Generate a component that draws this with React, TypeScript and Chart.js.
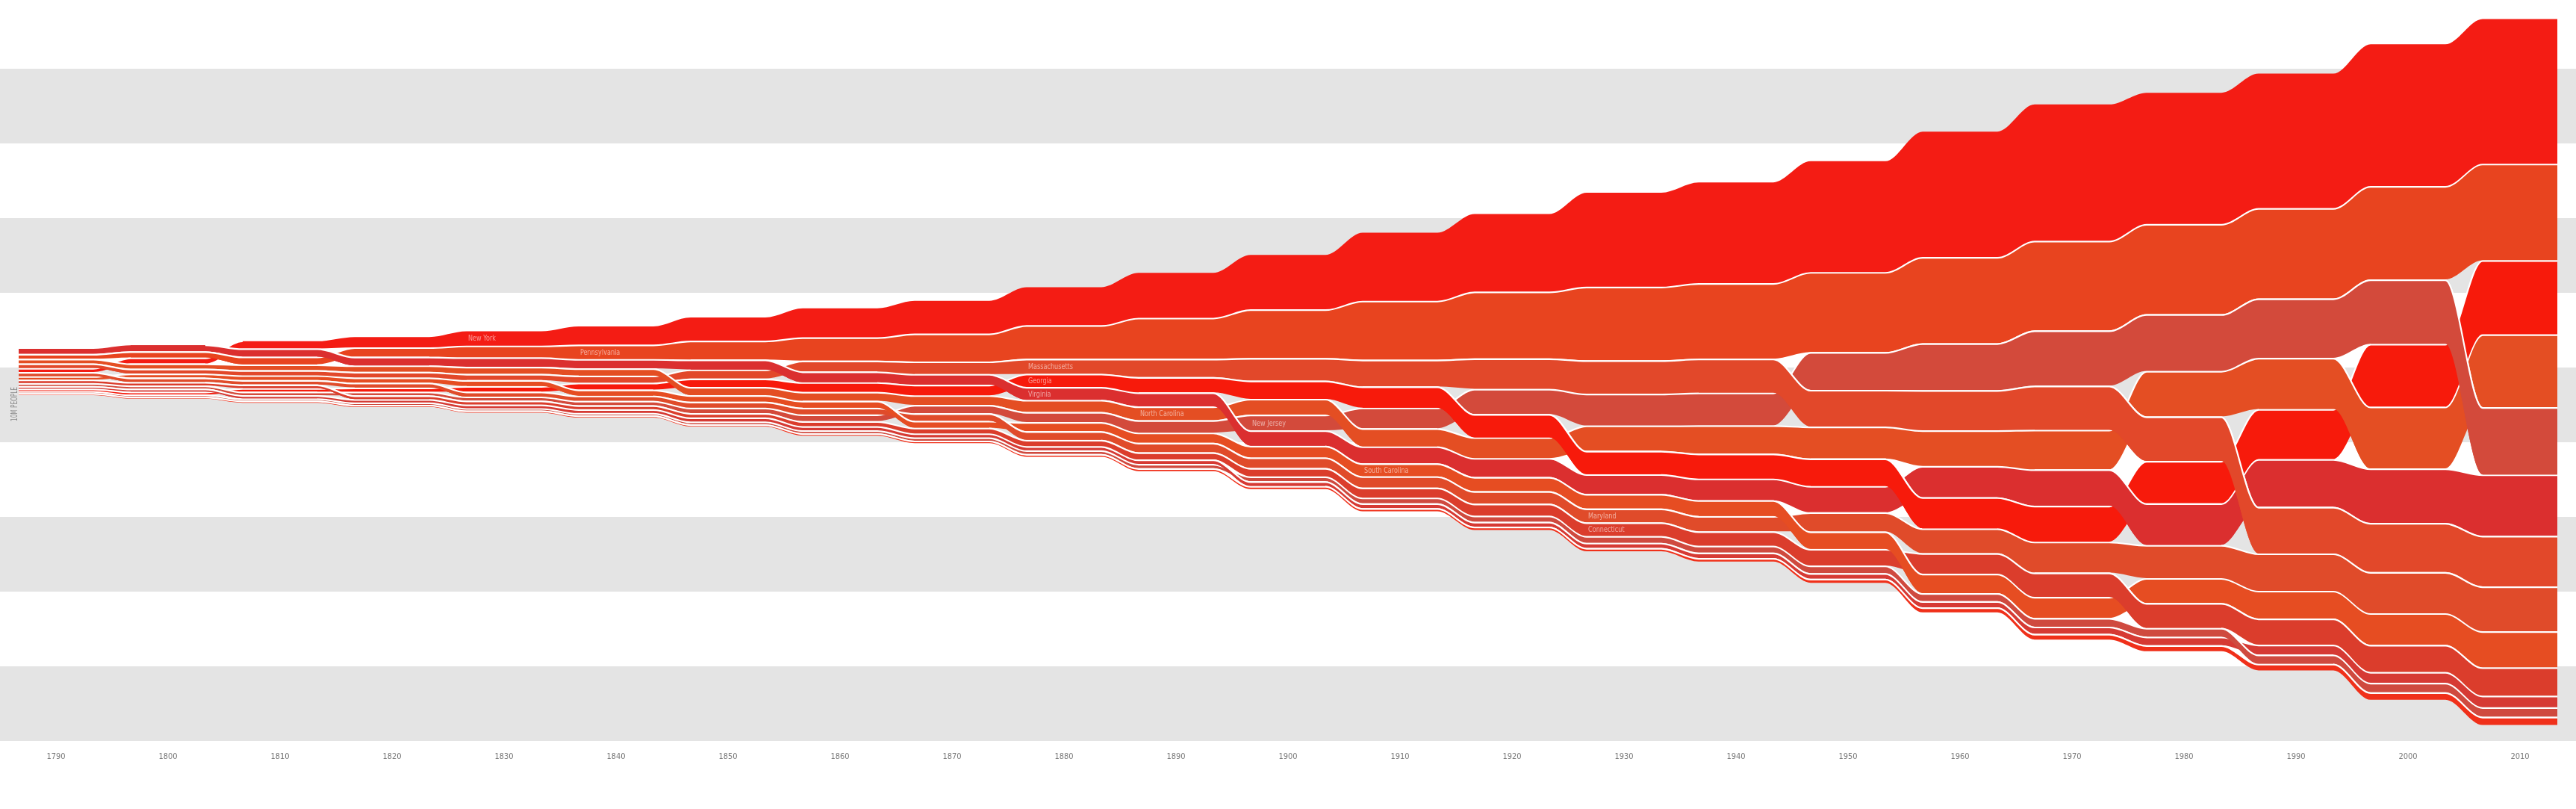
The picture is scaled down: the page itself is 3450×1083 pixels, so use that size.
import React, { useEffect, useRef } from 'react';
import { Chart, registerables } from 'chart.js';

Chart.register(...registerables);

// ---- data (census populations, thousands) ----
const years = [1790, 1800, 1810, 1820, 1830, 1840, 1850, 1860, 1870, 1880, 1890, 1900, 1910, 1920, 1930, 1940, 1950, 1960, 1970, 1980, 1990, 2000, 2010];
const yearLabels = ['1790', '1800', '1810', '1820', '1830', '1840', '1850', '1860', '1870', '1880', '1890', '1900', '1910', '1920', '1930', '1940', '1950', '1960', '1970', '1980', '1990', '2000', '2010'];

const states = ['Connecticut', 'Delaware', 'Georgia', 'Maryland', 'Massachusetts', 'New Hampshire', 'New Jersey', 'New York', 'North Carolina', 'Pennsylvania', 'Rhode Island', 'South Carolina', 'Virginia'];
const stateColors = ['#db3d2c', '#f0301a', '#f71a0b', '#e04b2a', '#e2482a', '#d63a34', '#d34a3b', '#f41c14', '#e44e23', '#e8441f', '#cf4a3f', '#e64d22', '#db2f2f'];

const connecticut = [238, 251, 262, 275, 298, 310, 371, 460, 537, 623, 746, 908, 1115, 1381, 1607, 1709, 2007, 2535, 3032, 3108, 3287, 3406, 3574];
const delaware = [59, 64, 73, 73, 77, 78, 92, 112, 125, 147, 168, 185, 202, 223, 238, 267, 318, 446, 548, 594, 666, 784, 898];
const georgia = [83, 163, 252, 341, 517, 691, 906, 1057, 1184, 1542, 1837, 2216, 2609, 2896, 2909, 3124, 3445, 3943, 4590, 5463, 6478, 8186, 9688];
const maryland = [320, 342, 381, 407, 447, 470, 583, 687, 781, 935, 1042, 1188, 1295, 1450, 1632, 1821, 2343, 3101, 3922, 4217, 4781, 5296, 5774];
const massachusetts = [379, 423, 472, 523, 610, 738, 995, 1231, 1457, 1783, 2239, 2805, 3366, 3852, 4250, 4317, 4691, 5149, 5689, 5737, 6016, 6349, 6548];
const newHampshire = [142, 184, 214, 244, 269, 285, 318, 326, 318, 347, 377, 412, 431, 443, 465, 492, 533, 607, 738, 921, 1109, 1236, 1316];
const newJersey = [184, 211, 246, 278, 321, 373, 490, 672, 906, 1131, 1445, 1884, 2537, 3156, 4041, 4160, 4835, 6067, 7168, 7365, 7730, 8414, 8792];
const newYork = [340, 589, 959, 1373, 1919, 2429, 3097, 3881, 4383, 5083, 6003, 7269, 9114, 10385, 12588, 13479, 14830, 16782, 18237, 17558, 17990, 18976, 19378];
const northCarolina = [394, 478, 556, 639, 738, 753, 869, 993, 1071, 1400, 1618, 1894, 2206, 2559, 3170, 3572, 4062, 4556, 5082, 5882, 6629, 8049, 9535];
const pennsylvania = [434, 602, 810, 1049, 1348, 1724, 2312, 2906, 3522, 4283, 5258, 6302, 7665, 8720, 9631, 9900, 10498, 11319, 11794, 11864, 11882, 12281, 12702];
const rhodeIsland = [69, 69, 77, 83, 97, 109, 148, 175, 217, 277, 346, 429, 543, 604, 687, 713, 792, 859, 950, 947, 1003, 1048, 1053];
const southCarolina = [249, 346, 415, 503, 581, 594, 669, 704, 706, 996, 1151, 1340, 1515, 1684, 1739, 1900, 2117, 2383, 2591, 3122, 3487, 4012, 4625];
const virginia = [692, 808, 878, 938, 1044, 1025, 1119, 1220, 1225, 1513, 1656, 1854, 2062, 2309, 2422, 2678, 3319, 3967, 4648, 5347, 6187, 7079, 8001];

const populations = [connecticut, delaware, georgia, maryland, massachusetts, newHampshire, newJersey, newYork, northCarolina, pennsylvania, rhodeIsland, southCarolina, virginia];

const axisTitle = '10M PEOPLE';
const grayBandTops = [40.6, 20.6, 0.6, -19.4, -39.4]; // millions, each band 10M tall

// ---- layout settings ----
const GAP = 0.22; // millions between stacked bands
const HALF = 10 / 3; // years of plateau on each side of a census year
const LABEL_MIN = 1500; // label a state once it reaches 1.5M
const FONT = '"Liberation Sans Narrow", "DejaVu Sans Condensed", "Arial Narrow", sans-serif';

type Layout = { top: number[]; bot: number[]; rank: number[] };

function buildLayout(): Layout[] {
  const n = states.length;
  return years.map((_, i) => {
    const order = states.map((_, k) => k).sort((a, b) => populations[b][i] - populations[a][i]);
    const total = order.reduce((s, k) => s + populations[k][i] / 1000, 0) + GAP * (n - 1);
    let y = total / 2;
    const top = new Array(n).fill(0);
    const bot = new Array(n).fill(0);
    const rank = new Array(n).fill(0);
    order.forEach((k, r) => {
      const v = populations[k][i] / 1000;
      top[k] = y;
      bot[k] = y - v;
      rank[k] = r;
      y -= v + GAP;
    });
    return { top, bot, rank };
  });
}

function makePair(k: number, L: Layout[], overlay: boolean): any[] {
  const last = years.length - 1;
  const desc = years.map((_, i) => i < last && L[i + 1].rank[k] > L[i].rank[k]);
  const topPts: any[] = [];
  const botPts: any[] = [];
  const rk: number[] = [];
  years.forEach((yr, i) => {
    const on = !overlay || desc[i] || (i > 0 && desc[i - 1]);
    const r = L[i].rank[k];
    const t = on ? L[i].top[k] + (r > 0 ? GAP / 2 : 0) : null;
    const b = on ? L[i].bot[k] : null;
    for (const x of [yr - HALF, yr + HALF]) {
      topPts.push({ x, y: t });
      botPts.push({ x, y: b });
      rk.push(r);
    }
    if (overlay && i < last && !desc[i]) {
      topPts.push({ x: yr + 5, y: null });
      botPts.push({ x: yr + 5, y: null });
      rk.push(-1);
    }
  });
  const common = {
    type: 'line',
    pointRadius: 0,
    pointHoverRadius: 0,
    cubicInterpolationMode: 'monotone',
    spanGaps: false,
  };
  return [
    { ...common, label: states[k] + ' bottom', data: botPts, borderWidth: 0, borderColor: 'rgba(0,0,0,0)', backgroundColor: 'rgba(0,0,0,0)', fill: false },
    {
      ...common,
      label: states[k],
      data: topPts,
      borderWidth: 2.2,
      borderColor: '#ffffff',
      backgroundColor: stateColors[k],
      fill: '-1',
      segment: {
        borderColor: (c: any) => (rk[c.p0DataIndex] === 0 && rk[c.p1DataIndex] === 0 ? 'rgba(255,255,255,0)' : '#ffffff'),
      },
    },
  ];
}

export default function App() {
  const ref = useRef<HTMLCanvasElement | null>(null);

  useEffect(() => {
    document.body.style.margin = '0';
    document.body.style.overflow = 'hidden';
    const canvas = ref.current;
    if (!canvas) return;
    const L = buildLayout();

    const datasets: any[] = [];
    states.forEach((_, k) => datasets.push(...makePair(k, L, true)));
    states.forEach((_, k) => datasets.push(...makePair(k, L, false)));

    const bandsPlugin = {
      id: 'grayBands',
      beforeDatasetsDraw(chart: any) {
        const { ctx, width } = chart;
        const ys = chart.scales.y;
        ctx.save();
        ctx.fillStyle = '#e4e4e4';
        grayBandTops.forEach((v) => {
          const y0 = ys.getPixelForValue(v);
          const y1 = ys.getPixelForValue(v - 10);
          ctx.fillRect(0, y0, width, y1 - y0);
        });
        ctx.restore();
      },
    };

    const labelPlugin = {
      id: 'stateLabels',
      afterDatasetsDraw(chart: any) {
        const { ctx } = chart;
        const xs = chart.scales.x;
        const ys = chart.scales.y;
        ctx.save();
        ctx.font = '11px ' + FONT;
        // condense text so "Massachusetts" is about 60px wide, as in the original
        const sx = Math.min(1, 60 / ctx.measureText('Massachusetts').width);
        ctx.fillStyle = 'rgba(255,255,255,0.55)';
        ctx.textBaseline = 'middle';
        ctx.textAlign = 'left';
        states.forEach((name, k) => {
          const i = populations[k].findIndex((v) => v >= LABEL_MIN);
          if (i < 0) return;
          const x = xs.getPixelForValue(years[i] - HALF) + 2;
          const y = ys.getPixelForValue((L[i].top[k] + L[i].bot[k]) / 2);
          ctx.save();
          ctx.translate(x, y);
          ctx.scale(sx, 1);
          ctx.fillText(name, 0, 0);
          ctx.restore();
        });
        ctx.restore();

        // axis title
        ctx.save();
        ctx.font = '12px ' + FONT;
        const tx = Math.min(1, 46 / ctx.measureText(axisTitle).width);
        ctx.translate(20, 541);
        ctx.rotate(-Math.PI / 2);
        ctx.scale(tx, 1);
        ctx.fillStyle = '#8a8a8a';
        ctx.textAlign = 'center';
        ctx.textBaseline = 'middle';
        ctx.fillText(axisTitle, 0, 0);
        ctx.restore();
      },
    };

    const chart = new Chart(canvas, {
      type: 'line',
      data: { datasets },
      options: {
        animation: false,
        responsive: false,
        devicePixelRatio: 1,
        events: [],
        layout: { padding: 0 },
        plugins: {
          legend: { display: false },
          tooltip: { enabled: false },
        },
        scales: {
          x: {
            type: 'linear',
            min: 1785,
            max: 2015,
            position: 'bottom',
            afterBuildTicks: (s: any) => {
              s.ticks = years.map((v) => ({ value: v }));
            },
            afterFit: (s: any) => {
              s.height = 83;
            },
            grid: { display: false, drawTicks: false, tickLength: 0 },
            border: { display: false },
            ticks: {
              autoSkip: false,
              maxRotation: 0,
              padding: 7,
              color: '#7a7a7a',
              font: { family: FONT, size: 11 },
              callback: (_v: any, idx: number) => yearLabels[idx],
            },
          },
          y: { type: 'linear', display: false, min: -50.2, max: 49.8 },
        },
      } as any,
      plugins: [bandsPlugin, labelPlugin],
    });
    return () => chart.destroy();
  }, []);

  return (
    <div style={{ width: 3450, height: 1083, background: '#ffffff' }}>
      <canvas ref={ref} width={3450} height={1083} style={{ display: 'block', width: 3450, height: 1083 }} />
    </div>
  );
}
